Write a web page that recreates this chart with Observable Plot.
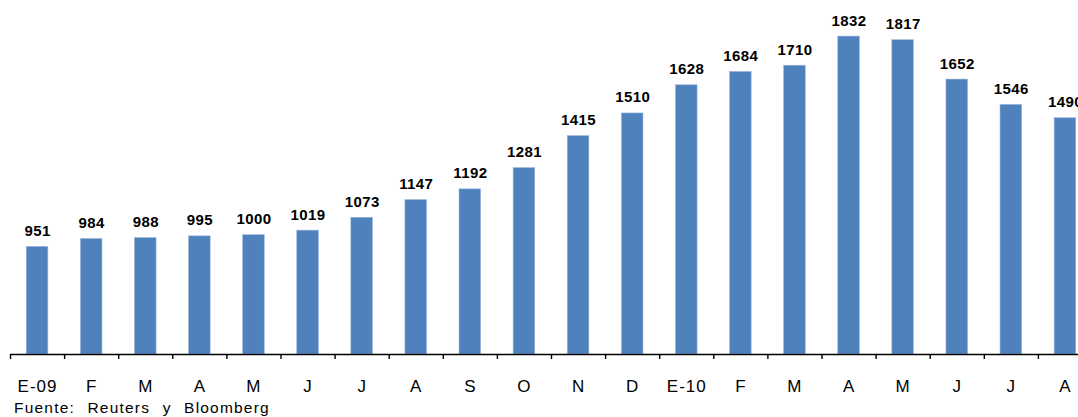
<!DOCTYPE html>
<html>
<head>
<meta charset="utf-8">
<script src="https://cdn.jsdelivr.net/npm/d3@7"></script>
<script src="https://cdn.jsdelivr.net/npm/@observablehq/plot@0.6"></script>
<style>
  html, body { margin: 0; padding: 0; background: #fff; }
  #wrap { width: 1078px; height: 417px; overflow: hidden; font-family: "Liberation Sans", Arial, sans-serif; }
  #chart svg { display: block; }
  .val text { letter-spacing: 0.4px; }
  .mon text { letter-spacing: 1px; }
  #caption { font-size: 15.5px; letter-spacing: 1.2px; word-spacing: 7px; color: #000; padding-left: 14px; margin-top: 3px; line-height: 17px; white-space: nowrap; }
</style>
</head>
<body>
<div id="wrap">
  <div id="chart"></div>
  <div id="caption">Fuente: Reuters y Bloomberg</div>
</div>
<script>
// Monthly series, January 2009 to August 2010
const months = ["E-09", "F", "M", "A", "M", "J", "J", "A", "S", "O", "N", "D",
                "E-10", "F", "M", "A", "M", "J", "J", "A"];
const values = [951, 984, 988, 995, 1000, 1019, 1073, 1147, 1192, 1281, 1415, 1510,
                1628, 1684, 1710, 1832, 1817, 1652, 1546, 1490];
const yMin = 500;
const yMax = 2000;

const data = months.map((m, i) => ({i, month: m, value: values[i]}));
const bounds = d3.range(0, months.length + 1);
const centers = d3.range(0, months.length).map(i => i + 0.5);

const chart = Plot.plot({
  width: 1100,
  height: 396,
  marginLeft: 10,
  marginRight: 8,
  marginTop: -4,
  marginBottom: 42,
  style: {fontFamily: "'Liberation Sans', Arial, sans-serif", maxWidth: "none", overflow: "visible", background: "#fff"},
  x: {type: "linear", domain: [0, months.length], axis: null},
  y: {domain: [yMin, yMax], axis: null},
  marks: [
    Plot.rectY(data, {
      x1: d => d.i + 0.3, x2: d => d.i + 0.7,
      y1: () => yMin, y2: "value",
      fill: "#4F81BD", stroke: "#9DB9DE", strokeWidth: 0.6
    }),
    Plot.text(data, {
      x: d => d.i + 0.5, y: "value", text: d => String(d.value),
      lineAnchor: "bottom", dy: -11,
      fontSize: 15, fontWeight: "bold", fill: "#000",
      className: "val"
    }),
    Plot.ruleY([yMin], {stroke: "#000", strokeWidth: 1.6}),
    // boundary tick marks between months
    Plot.axisX({ticks: bounds, tickSize: 5, tickFormat: () => "", stroke: "#000", strokeWidth: 1.4}),
    // month names centred under each bar
    Plot.axisX({
      ticks: centers, tickSize: 0, tickPadding: 25,
      tickFormat: v => months[Math.round(v - 0.5)],
      fontSize: 17, fill: "#000", className: "mon"
    })
  ]
});
document.getElementById("chart").appendChild(chart);
</script>
</body>
</html>
